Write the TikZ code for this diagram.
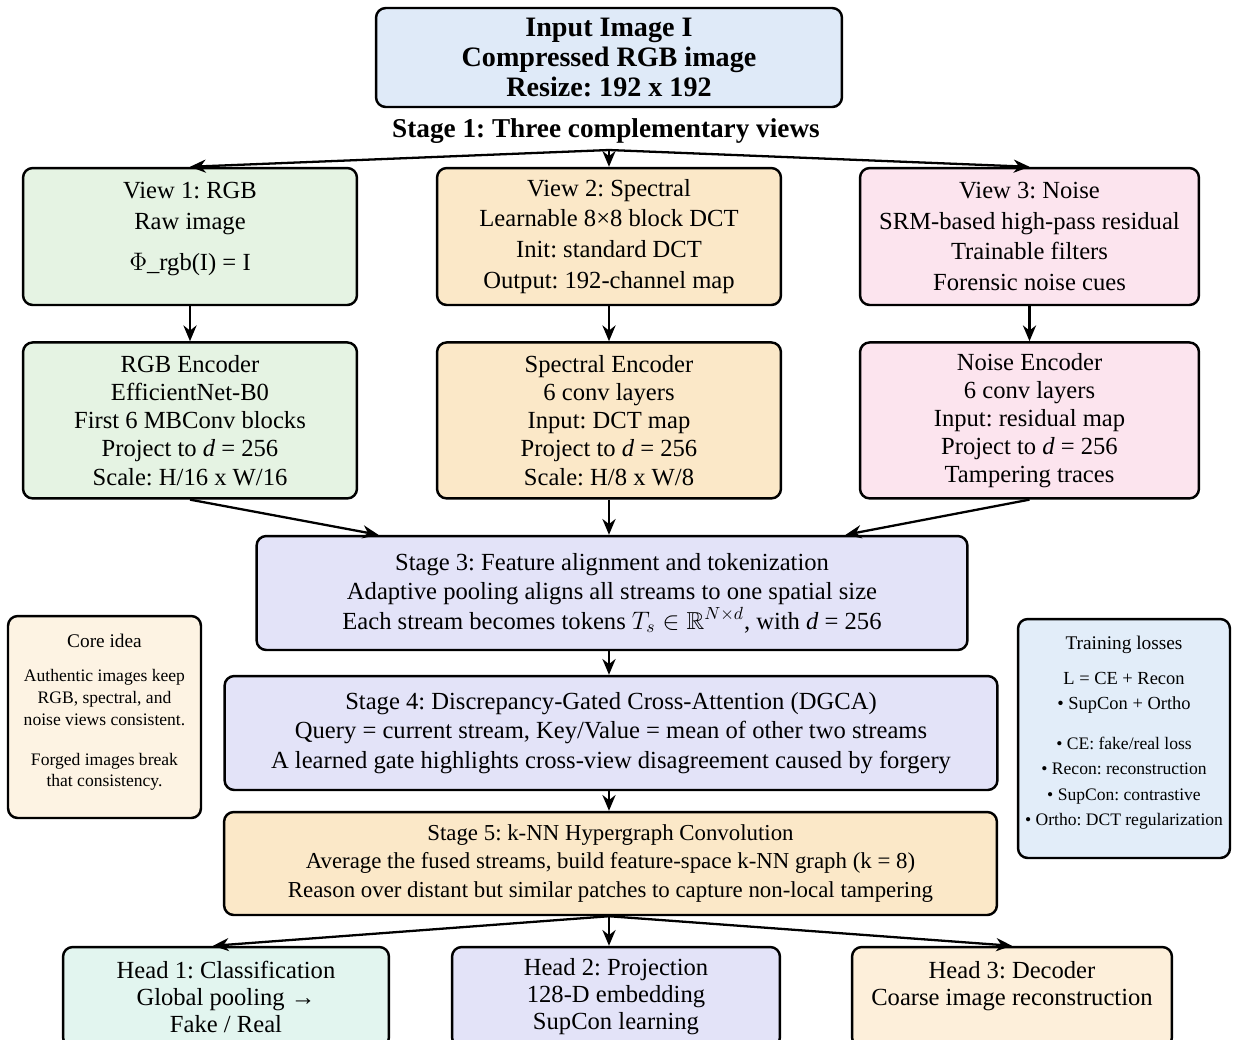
\documentclass[tikz,border=0pt]{standalone}
\usepackage{amsmath,amssymb}
\usepackage{fontspec}
\setmainfont{Liberation Serif}
\usepackage{tikz}
\usetikzlibrary{arrows.meta,positioning,calc}
\definecolor{inblue}{RGB}{223,234,248}
\definecolor{viewgreen}{RGB}{229,243,227}
\definecolor{viewsand}{RGB}{251,232,200}
\definecolor{viewpink}{RGB}{252,228,238}
\definecolor{stagelav}{RGB}{227,227,248}
\definecolor{coresand}{RGB}{253,243,227}
\definecolor{lossblue}{RGB}{226,237,249}
\definecolor{headteal}{RGB}{226,245,239}
\definecolor{headsand}{RGB}{253,239,218}
\newcommand{\setfs}[2]{\fontsize{#1}{#2}\selectfont}
\frenchspacing

\begin{document}
\begin{tikzpicture}[x=0.02cm,y=-0.02cm,
    box/.style={rectangle,draw=black,line width=1.4pt,rounded corners=5.5pt,
      align=center,inner sep=0pt},
    viewbox/.style={box,minimum height=2.74cm,font=\setfs{14}{17.6}},
    encbox/.style={box,minimum height=3.12cm,font=\setfs{14}{16}},
    stagebox/.style={box,font=\setfs{14}{16.8}},
    headbox/.style={box,minimum height=2.0cm,font=\setfs{14}{15.4}},
    a/.style={-{Stealth[length=9pt,width=7.5pt]},black,line width=1.3pt}]
    \clip (0,0) rectangle (1235,1039);
    \fill[white] (0,0) rectangle (1235,1039);
    % input and stage 1
    \node[box,fill=inblue,minimum width=9.32cm,minimum height=1.98cm,
      font=\setfs{16}{17.2}\bfseries] (inp) at (609,57.5)
      {Input Image I\\Compressed RGB image\\Resize: 192 x 192};
    \node[font=\setfs{15.5}{17}\bfseries] (st1) at (606,131) {Stage 1: Three complementary views};
    \coordinate (fork) at (609,150);
    % three views
    \node[viewbox,fill=viewgreen,minimum width=6.68cm] (v1) at (190,236.5)
      {View 1: RGB\\Raw image\\[6pt]$\Phi$\_rgb(I) = I\\[-6pt]\mbox{}};
    \node[viewbox,fill=viewsand,minimum width=6.88cm] (v2) at (609,236.5)
      {View 2: Spectral\\Learnable 8×8 block DCT\\Init: standard DCT\\Output: 192-channel map};
    \node[viewbox,fill=viewpink,minimum width=6.78cm] (v3) at (1029.5,236.5)
      {View 3: Noise\\SRM-based high-pass residual\\Trainable filters\\Forensic noise cues};
    % encoders
    \node[encbox,fill=viewgreen,minimum width=6.68cm,below=0.7cm of v1] (e1)
      {RGB Encoder\\EfficientNet-B0\\First 6 MBConv blocks\\Project to \textit{d} = 256\\Scale: H/16 x W/16};
    \node[encbox,fill=viewsand,minimum width=6.88cm,below=0.7cm of v2] (e2)
      {Spectral Encoder\\6 conv layers\\Input: DCT map\\Project to \textit{d} = 256\\Scale: H/8 x W/8};
    \node[encbox,fill=viewpink,minimum width=6.78cm,below=0.7cm of v3] (e3)
      {Noise Encoder\\6 conv layers\\Input: residual map\\Project to \textit{d} = 256\\Tampering traces};
    % stages 3-5
    \node[stagebox,fill=stagelav,minimum width=14.22cm,minimum height=2.28cm] (st3) at (612,593)
      {Stage 3: Feature alignment and tokenization\\Adaptive pooling aligns all streams to one spatial size\\
       Each stream becomes tokens $T_s\in\mathbb{R}^{N\times d}$, with \textit{d} = 256};
    \node[stagebox,fill=stagelav,minimum width=15.46cm,minimum height=2.28cm,
      font=\setfs{14}{16.6}] (st4) at (611,733)
      {Stage 4: Discrepancy-Gated Cross-Attention (DGCA)\\Query = current stream, Key/Value = mean of other two streams\\
       A learned gate highlights cross-view disagreement caused by forgery};
    \node[stagebox,fill=viewsand,minimum width=15.46cm,minimum height=2.06cm,
      font=\setfs{13}{16}] (st5) at (610.5,863.5)
      {Stage 5: k-NN Hypergraph Convolution\\Average the fused streams, build feature-space k-NN graph (k = 8)\\
       Reason over distant but similar patches to capture non-local tampering};
    % side notes
    \node[box,fill=coresand,minimum width=3.86cm,minimum height=4.04cm,font=\setfs{10}{12.5}] (core) at (104.5,717)
      {{\setfs{11}{12.5}Core idea}\\[7pt]Authentic images keep\\RGB, spectral, and\\noise views consistent.\\[10pt]
       Forged images break\\that consistency.\\[-5pt]\mbox{}};
    \node[box,fill=lossblue,minimum width=4.24cm,minimum height=4.78cm,font=\setfs{10}{14.5}] (loss) at (1124,738.5)
      {{\setfs{11}{14.5}Training losses}\\[5pt]{\setfs{10.5}{14.5}L = CE + Recon}\\{\setfs{10.5}{14.5}• SupCon + Ortho}\\[8pt]
       • CE: fake/real loss\\• Recon: reconstruction\\• SupCon: contrastive\\• Ortho: DCT regularization\\[-6pt]\mbox{}};
    % heads
    \node[headbox,fill=headteal,minimum width=6.52cm] (h1) at (226,997)
      {Head 1: Classification\\Global pooling →\\Fake / Real};
    \node[headbox,fill=stagelav,minimum width=6.56cm] (h2) at (616,997)
      {Head 2: Projection\\128-D embedding\\SupCon learning};
    \node[headbox,fill=headsand,minimum width=6.4cm] (h3) at (1012,997)
      {Head 3: Decoder\\Coarse image reconstruction\\\mbox{}};
    % arrows
    \draw[a](fork)--(v1.north); \draw[a](fork)--(v2.north); \draw[a](fork)--(v3.north);
    \draw[a](v1)--(e1); \draw[a](v2)--(e2); \draw[a](v3)--(e3);
    \draw[a](e1.south)--(st3.166); \draw[a](e2.south)--(e2.south |- st3.north); \draw[a](e3.south)--(st3.14.8);
    \draw[a](st3.south -| e2)--(st4.north -| e2); \draw[a](st4.south -| e2)--(st5.north -| e2);
    \draw[a](st5.south -| e2)--($(h1.north)+(-13,0)$); \draw[a](st5.south -| e2)--(h2.north -| e2);
    \draw[a](st5.south -| e2)--(h3.north);
  \end{tikzpicture}
\end{document}
